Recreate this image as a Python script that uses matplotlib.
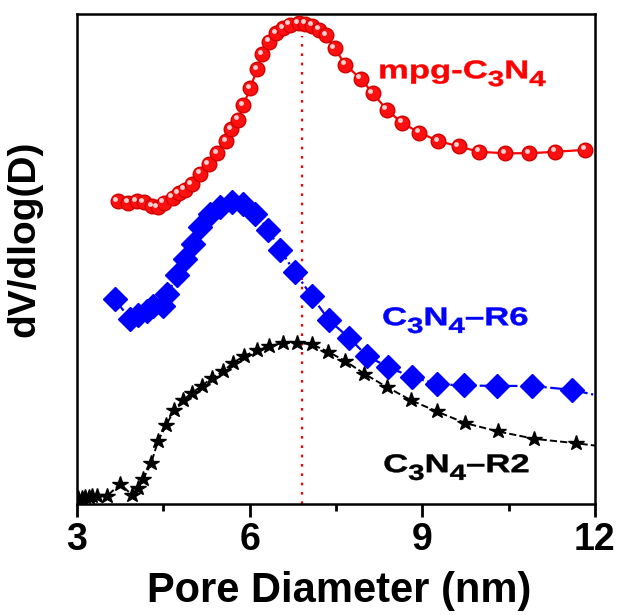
import numpy as np
import matplotlib
matplotlib.use('Agg')
import matplotlib.pyplot as plt
import matplotlib.transforms as mtransforms
from matplotlib.textpath import TextPath, text_to_path
from matplotlib.font_manager import FontProperties
from matplotlib.patches import PathPatch
from matplotlib.path import Path

plt.rcParams['font.family'] = ['Liberation Sans', 'DejaVu Sans']
plt.rcParams['font.weight'] = 'bold'

# mpg-C3N4 (red spheres)
x_mpg = [3.71, 3.89, 4.04, 4.16, 4.31, 4.40, 4.51, 4.66, 4.77, 4.87, 4.99, 5.14, 5.29,
         5.44, 5.59, 5.68, 5.80, 5.89, 6.01, 6.13, 6.22, 6.34, 6.46, 6.58, 6.70, 6.85,
         6.97, 7.09, 7.21, 7.33, 7.48, 7.66, 7.93, 8.14, 8.38, 8.65, 8.95, 9.28, 9.63,
         9.99, 10.44, 10.86, 11.31, 11.83]
y_mpg = [61.8, 61.5, 61.8, 61.6, 60.8, 60.6, 61.5, 62.5, 63.4, 64.2, 65.3, 67.4, 69.4,
         71.6, 74.1, 76.5, 78.4, 81.4, 84.9, 88.8, 91.8, 94.4, 96.1, 97.1, 97.8, 98.1,
         98.0, 97.6, 96.8, 95.7, 93.0, 89.7, 86.8, 83.9, 80.5, 77.8, 75.8, 74.1, 73.0,
         71.9, 71.6, 71.6, 71.9, 72.3]

# C3N4-R6 (blue diamonds)
x_r6 = [3.66, 3.92, 4.06, 4.22, 4.32, 4.50, 4.57, 4.74, 4.88, 5.02, 5.14, 5.31, 5.49,
        5.70, 5.89, 6.10, 6.32, 6.53, 6.79, 7.08, 7.38, 7.73, 8.04, 8.40, 8.82, 9.26,
        9.72, 10.30, 10.90, 11.60, 12.30]
y_r6 = [41.8, 37.7, 38.5, 39.5, 40.5, 40.5, 42.8, 46.7, 50.0, 53.1, 56.6, 59.1, 60.7,
        61.7, 61.3, 59.3, 56.0, 51.9, 47.3, 42.4, 37.5, 33.9, 30.2, 28.0, 25.9, 24.5,
        24.2, 24.1, 24.1, 23.3, 21.5]

# C3N4-R2 (black stars)
x_r2 = [3.02, 3.08, 3.14, 3.20, 3.26, 3.35, 3.52, 3.75, 3.96, 4.06, 4.15, 4.29, 4.41,
        4.55, 4.69, 4.84, 5.00, 5.17, 5.34, 5.54, 5.71, 5.90, 6.13, 6.34, 6.58, 6.83,
        7.08, 7.36, 7.66, 7.99, 8.38, 8.80, 9.25, 9.75, 10.32, 10.95, 11.67, 12.30]
y_r2 = [1.2, 1.3, 1.4, 1.5, 1.6, 1.6, 1.6, 4.1, 1.8, 3.3, 5.1, 8.4, 12.9,
        16.1, 19.2, 21.2, 22.7, 24.1, 25.7, 27.1, 28.8, 30.2, 31.4, 32.2, 32.9, 32.9,
        32.6, 31.1, 29.2, 26.6, 23.9, 21.2, 18.9, 16.5, 14.8, 13.3, 12.4, 11.5]

peak_x = 6.91
xticks = [3, 6, 9, 12]


def wide_label(ax, x, y, parts, color, size=18.5, sx=1.35):
    # build a horizontally stretched text path, pieces = (text, scale, baseline shift)
    verts, codes = [], []
    x0 = 0.0
    for s, sc, dy in parts:
        fp = FontProperties(family='Liberation Sans', weight='bold', size=size * sc)
        tp = TextPath((x0, dy * size), s, prop=fp)
        verts.append(tp.vertices)
        codes.append(tp.codes)
        w, h, d = text_to_path.get_text_width_height_descent(s, fp, ismath=False)
        x0 += w
    path = Path(np.concatenate(verts), np.concatenate(codes))
    k = ax.figure.dpi / 72.0
    tr = mtransforms.Affine2D().scale(sx * k, k) + mtransforms.ScaledTranslation(x, y, ax.transData)
    ax.add_patch(PathPatch(path, facecolor=color, edgecolor=color, linewidth=0.3,
                           transform=tr, zorder=7))


fig = plt.figure(figsize=(6.21, 6.15), dpi=100)
ax = fig.add_axes([0.124, 0.1805, 0.834, 0.7965])

ax.plot([peak_x, peak_x], [0, 95.5], color='red', linestyle=(0, (1.2, 3)), linewidth=1.6, zorder=1)

ax.plot(x_r2, y_r2, color='black', linestyle='--', linewidth=1.4, marker='*',
        markersize=11.5, markerfacecolor='black', markeredgecolor='black', zorder=3)
ax.plot(x_r6, y_r6, color='blue', linestyle='-.', linewidth=1.6, marker='D',
        markersize=12, markerfacecolor='blue', markeredgecolor='blue', zorder=4)
ax.plot(x_mpg, y_mpg, color='red', linestyle='-', linewidth=1.6, marker='o',
        markersize=10.5, markerfacecolor='#ff1010', markeredgecolor='#d00000', zorder=5)
# sphere highlight
shine = mtransforms.offset_copy(ax.transData, fig=fig, x=-1.8, y=1.8, units='points')
ax.plot(x_mpg, y_mpg, linestyle='none', marker='o', markersize=3.5,
        markerfacecolor='#ffd0d0', markeredgecolor='none', transform=shine, zorder=6)

sub = 0.85
drop = -0.3
wide_label(ax, 8.23, 86.9, [('mpg-C', 1, 0), ('3', sub, drop), ('N', 1, 0), ('4', sub, drop)], 'red')
wide_label(ax, 8.30, 36.5, [('C', 1, 0), ('3', sub, drop), ('N', 1, 0), ('4', sub, drop),
                            ('\u2013R6', 1, 0)], 'blue')
wide_label(ax, 8.32, 6.5, [('C', 1, 0), ('3', sub, drop), ('N', 1, 0), ('4', sub, drop),
                           ('\u2013R2', 1, 0)], 'black')

ax.set_xlim(3, 12)
ax.set_ylim(0, 100)
ax.set_xticks(xticks)
ax.set_xticks([4.5, 7.5, 10.5], minor=True)
ax.set_xticklabels([str(t) for t in xticks], fontsize=27, fontweight='bold')
ax.set_yticks([])
ax.tick_params(axis='x', which='major', direction='out', length=9, width=2, pad=4)
ax.tick_params(axis='x', which='minor', direction='out', length=5, width=2)
for s in ax.spines.values():
    s.set_linewidth(1.8)

ax.set_xlabel('Pore Diameter (nm)', fontsize=30, fontweight='bold')
ax.set_ylabel('dV/dlog(D)', fontsize=28, fontweight='bold')
ax.xaxis.set_label_coords(0.506, -0.137)
ax.yaxis.set_label_coords(-0.066, 0.542)

fig.savefig('out.png', dpi=100)
